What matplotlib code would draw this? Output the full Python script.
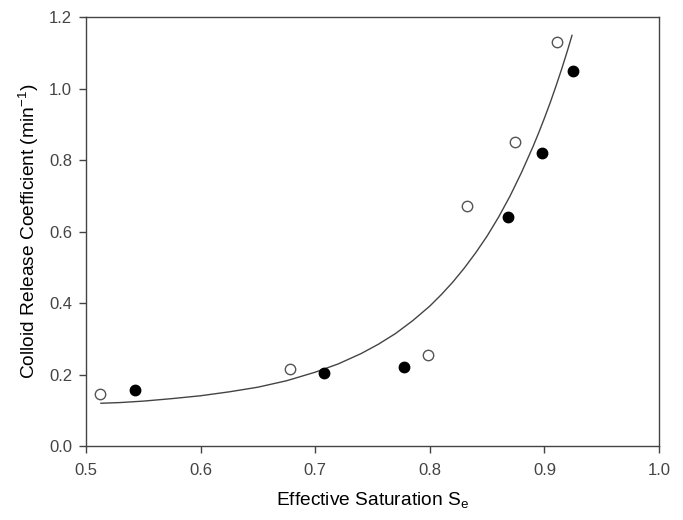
"""
Colloid release coefficient as a function of effective saturation.
Open and filled circles are two sets of measurements; the line is the fit.
"""

import matplotlib
matplotlib.use("Agg")
import matplotlib.pyplot as plt

# ---- Data
se_open = [0.512, 0.678, 0.798, 0.832, 0.874, 0.911]
rc_open = [0.145, 0.215, 0.255, 0.671, 0.850, 1.130]

se_filled = [0.543, 0.708, 0.777, 0.868, 0.898, 0.925]
rc_filled = [0.157, 0.204, 0.221, 0.641, 0.820, 1.049]

# fitted curve
se_fit = [0.513, 0.53, 0.55, 0.575, 0.60, 0.625, 0.65, 0.675, 0.70, 0.72,
          0.74, 0.755, 0.77, 0.785, 0.80, 0.81, 0.82, 0.83, 0.84, 0.85,
          0.86, 0.87, 0.88, 0.89, 0.895, 0.90, 0.905, 0.91, 0.915, 0.92,
          0.924]
rc_fit = [0.120, 0.122, 0.126, 0.133, 0.141, 0.152, 0.165, 0.183, 0.207,
          0.230, 0.259, 0.285, 0.315, 0.351, 0.392, 0.424, 0.459, 0.498,
          0.541, 0.588, 0.641, 0.700, 0.766, 0.838, 0.877, 0.918, 0.961,
          1.007, 1.055, 1.106, 1.149]

xticks = [0.5, 0.6, 0.7, 0.8, 0.9, 1.0]
yticks = [0.0, 0.2, 0.4, 0.6, 0.8, 1.0, 1.2]


# ---- Plot
plt.rcParams['font.family'] = ['Liberation Sans', 'DejaVu Sans']
plt.rcParams['mathtext.default'] = 'regular'

fig = plt.figure(figsize=(6.83, 5.20), dpi=100)
ax = fig.add_axes([0.126, 0.142, 0.839, 0.825])

ax.plot(se_fit, rc_fit, color="#444444", lw=1.0, zorder=2)
ax.plot(se_open, rc_open, "o", ms=7.5, mfc="white", mec="#555555",
        mew=1.0, zorder=3)
ax.plot(se_filled, rc_filled, "o", ms=7.5, mfc="black", mec="black",
        zorder=3)

ax.set_xlim(0.5, 1.0)
ax.set_ylim(0.0, 1.2)
ax.set_xticks(xticks)
ax.set_yticks(yticks)
ax.set_xticklabels(["%.1f" % v for v in xticks])
ax.set_yticklabels(["%.1f" % v for v in yticks])

ax.tick_params(direction="out", length=5, width=1, color="#444444",
               labelsize=12, labelcolor="#444444", pad=5,
               top=False, right=False)
ax.tick_params(axis="x", pad=7)
for s in ax.spines.values():
    s.set_color("#444444")
    s.set_linewidth(1.0)

ax.set_xlabel(r"Effective Saturation S$_e$", fontsize=13.8, labelpad=9)
ax.set_ylabel(r"Colloid Release Coefficient (min$^{-1}$)", fontsize=13.8,
              labelpad=6)

fig.savefig("out.png", dpi=100)
